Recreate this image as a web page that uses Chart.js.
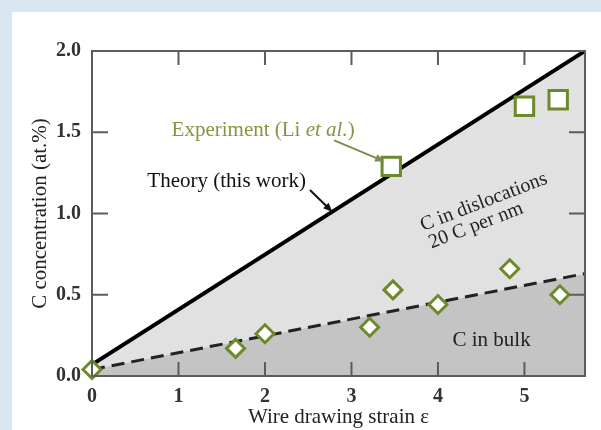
<!DOCTYPE html>
<html lang="en">
<head>
<meta charset="UTF-8">
<title>C concentration vs wire drawing strain</title>
<script src="https://cdn.jsdelivr.net/npm/chart.js"></script>
<style>
  html, body { margin: 0; padding: 0; background: #d7e6f0; overflow: hidden; }
  .panel { position: absolute; left: 12px; top: 12px; width: 589px; height: 418px; background: #fff; }
  canvas { display: block; }
</style>
</head>
<body>
<div class="panel"><canvas id="chart" width="589" height="418"></canvas></div>
<script>
// tick labels
const xTicks = [0, 1, 2, 3, 4, 5];
const yTicks = [0, 0.5, 1.0, 1.5, 2.0];

// theory (this work) - solid line
const theoryStrain = [0, 5.7];
const theoryConc = [0.07, 2.0];

// C in bulk - dashed line
const bulkStrain = [0, 5.7];
const bulkConc = [0.04, 0.63];

// open diamonds
const diamondStrain = [0, 1.66, 2.0, 3.21, 3.48, 4.0, 4.83, 5.41];
const diamondConc = [0.04, 0.17, 0.26, 0.30, 0.53, 0.44, 0.66, 0.50];

// experiment (Li et al.) - open squares
const squareStrain = [3.46, 5.0, 5.39];
const squareConc = [1.29, 1.66, 1.70];

const SERIF = '"Liberation Serif", "DejaVu Serif", serif';
const GREEN = '#6c8a2c';

function pts(xs, ys) {
    return xs.map((x, i) => ({ x: x, y: ys[i] }));
}

// frame, inward ticks, arrows and the texts inside the plot
const decorPlugin = {
    id: 'decor',
    afterDatasetsDraw(chart) {
        const ctx = chart.ctx;
        const a = chart.chartArea;
        const sx = chart.scales.x, sy = chart.scales.y;
        const px = v => sx.getPixelForValue(v);
        const py = v => sy.getPixelForValue(v);

        ctx.save();
        ctx.strokeStyle = '#5c5c5c';
        ctx.lineWidth = 2;
        ctx.strokeRect(a.left, a.top, a.right - a.left, a.bottom - a.top);
        ctx.beginPath();
        xTicks.slice(1).forEach(v => {
            ctx.moveTo(px(v), a.bottom); ctx.lineTo(px(v), a.bottom - 14);
            ctx.moveTo(px(v), a.top); ctx.lineTo(px(v), a.top + 14);
        });
        yTicks.slice(1, -1).forEach(v => {
            ctx.moveTo(a.left, py(v)); ctx.lineTo(a.left + 16, py(v));
            ctx.moveTo(a.right, py(v)); ctx.lineTo(a.right - 16, py(v));
        });
        ctx.stroke();

        function arrow(x1, y1, x2, y2, color) {
            const X1 = px(x1), Y1 = py(y1), X2 = px(x2), Y2 = py(y2);
            const ang = Math.atan2(Y2 - Y1, X2 - X1);
            ctx.strokeStyle = color;
            ctx.fillStyle = color;
            ctx.lineWidth = 2;
            ctx.beginPath();
            ctx.moveTo(X1, Y1);
            ctx.lineTo(X2 - 6 * Math.cos(ang), Y2 - 6 * Math.sin(ang));
            ctx.stroke();
            ctx.beginPath();
            ctx.moveTo(X2, Y2);
            ctx.lineTo(X2 - 10 * Math.cos(ang - 0.4), Y2 - 10 * Math.sin(ang - 0.4));
            ctx.lineTo(X2 - 10 * Math.cos(ang + 0.4), Y2 - 10 * Math.sin(ang + 0.4));
            ctx.closePath();
            ctx.fill();
        }
        arrow(2.80, 1.45, 3.38, 1.32, '#7d8c4f');
        arrow(2.52, 1.145, 2.78, 1.01, '#111');

        ctx.textBaseline = 'middle';
        // Experiment (Li et al.)
        ctx.fillStyle = '#84963f';
        ctx.textAlign = 'left';
        let x0 = px(0.92);
        const yE = py(1.51);
        ctx.font = '21px ' + SERIF;
        ctx.fillText('Experiment (Li ', x0, yE);
        x0 += ctx.measureText('Experiment (Li ').width;
        ctx.font = 'italic 21px ' + SERIF;
        ctx.fillText('et al.', x0, yE);
        x0 += ctx.measureText('et al.').width;
        ctx.font = '21px ' + SERIF;
        ctx.fillText(')', x0, yE);

        ctx.fillStyle = '#111';
        ctx.fillText('Theory (this work)', px(0.64), py(1.20));

        ctx.textAlign = 'center';
        ctx.fillStyle = '#222';
        ctx.fillText('C in bulk', px(4.62), py(0.22));

        ctx.font = '20px ' + SERIF;
        [['C in dislocations', 4.53, 1.07], ['20 C per nm', 4.44, 0.925]].forEach(t => {
            ctx.save();
            ctx.translate(px(t[1]), py(t[2]));
            ctx.rotate(-21 * Math.PI / 180);
            ctx.fillText(t[0], 0, 0);
            ctx.restore();
        });
        ctx.restore();
    }
};

new Chart(document.getElementById('chart'), {
    type: 'scatter',
    data: {
        datasets: [
            {
                label: 'C in bulk',
                data: pts(bulkStrain, bulkConc),
                showLine: true,
                borderColor: '#222',
                borderWidth: 3,
                borderDash: [13, 7],
                pointRadius: 0,
                fill: 'origin',
                backgroundColor: '#c4c4c4',
                order: 2
            },
            {
                label: 'Theory (this work)',
                data: pts(theoryStrain, theoryConc),
                showLine: true,
                borderColor: '#000',
                borderWidth: 4,
                pointRadius: 0,
                fill: '-1',
                backgroundColor: '#e1e1e1',
                order: 2
            },
            {
                label: 'Diamonds',
                data: pts(diamondStrain, diamondConc),
                pointStyle: 'rectRot',
                pointRadius: 9,
                pointBorderWidth: 3,
                pointBorderColor: GREEN,
                pointBackgroundColor: '#fff',
                clip: false,
                order: 1
            },
            {
                label: 'Experiment (Li et al.)',
                data: pts(squareStrain, squareConc),
                pointStyle: 'rect',
                pointRadius: 13,
                pointBorderWidth: 3,
                pointBorderColor: GREEN,
                pointBackgroundColor: '#fff',
                clip: false,
                order: 1
            }
        ]
    },
    options: {
        responsive: false,
        animation: false,
        layout: { padding: { left: 16, right: 13, top: 39, bottom: 0 } },
        plugins: { legend: { display: false }, tooltip: { enabled: false } },
        scales: {
            x: {
                type: 'linear',
                min: 0,
                max: 5.7,
                grid: { display: false },
                border: { display: false },
                afterBuildTicks: s => { s.ticks = xTicks.map(v => ({ value: v })); },
                afterFit: s => { s.height = 54; },
                ticks: {
                    padding: 1,
                    color: '#333',
                    font: { family: SERIF, size: 20, weight: 'bold' },
                    callback: v => String(v)
                },
                title: {
                    display: true,
                    text: 'Wire drawing strain ε',
                    color: '#222',
                    padding: 0,
                    font: { family: SERIF, size: 21 }
                }
            },
            y: {
                type: 'linear',
                min: 0,
                max: 2.0,
                grid: { display: false },
                border: { display: false },
                afterBuildTicks: s => { s.ticks = yTicks.map(v => ({ value: v })); },
                afterFit: s => { s.width = 64; },
                ticks: {
                    padding: 3,
                    color: '#333',
                    font: { family: SERIF, size: 20, weight: 'bold' },
                    callback: v => v.toFixed(1)
                },
                title: {
                    display: true,
                    text: 'C concentration (at.%)',
                    color: '#222',
                    padding: 0,
                    font: { family: SERIF, size: 21 }
                }
            }
        }
    },
    plugins: [decorPlugin]
});
</script>
</body>
</html>
